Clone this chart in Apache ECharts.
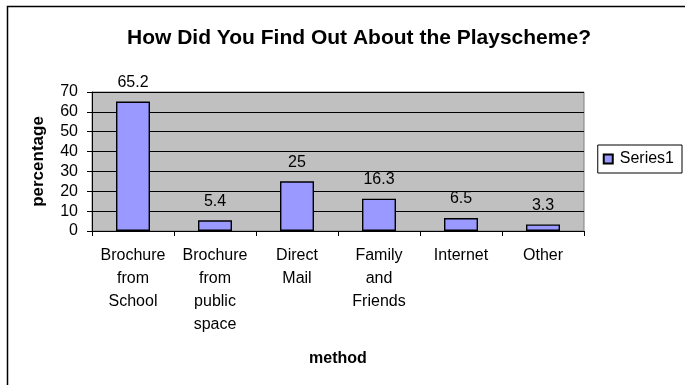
<!DOCTYPE html>
<html>
<head>
<meta charset="utf-8">
<script src="https://cdn.jsdelivr.net/npm/echarts@6/dist/echarts.min.js"></script>
<style>
  html, body { margin: 0; padding: 0; background: #fff; }
  #chart { width: 685px; height: 385px; }
</style>
</head>
<body>
<div id="chart"></div>
<script>
// Survey responses: how people heard about the playscheme
const categories = [
  'Brochure\nfrom\nSchool',
  'Brochure\nfrom\npublic\nspace',
  'Direct\nMail',
  'Family\nand\nFriends',
  'Internet',
  'Other'
];
const series1 = [65.2, 5.4, 25, 16.3, 6.5, 3.3];
const yTicks = { min: 0, max: 70, interval: 10 };

const FONT = 'Liberation Sans, Arial, sans-serif';

const chart = echarts.init(document.getElementById('chart'), null, { renderer: 'canvas' });

chart.setOption({
  animation: false,
  backgroundColor: '#ffffff',
  textStyle: { fontFamily: FONT, color: '#000' },
  title: {
    text: 'How Did You Find Out About the Playscheme?',
    left: 354,
    textAlign: 'center',
    top: 23,
    textStyle: { fontFamily: FONT, fontSize: 21, fontWeight: 'bold', color: '#000' }
  },
  graphic: [
    {
      type: 'rect',
      shape: { x: 7.5, y: 6.5, width: 700, height: 400 },
      style: { fill: 'none', stroke: '#000', lineWidth: 1.5 },
      silent: true,
      z: -1
    }
  ],
  legend: {
    show: true,
    data: ['Series1'],
    right: 3,
    top: 145,
    orient: 'vertical',
    padding: [6, 8, 6, 5],
    itemWidth: 9,
    itemHeight: 9,
    itemGap: 0,
    borderColor: '#000',
    borderWidth: 1,
    icon: 'rect',
    textStyle: { fontFamily: FONT, fontSize: 16, color: '#000', padding: [0, 0, 0, 2] }
  },
  grid: {
    left: 92,
    top: 92,
    right: 101,
    bottom: 154,
    show: true,
    backgroundColor: '#c0c0c0',
    borderColor: '#808080',
    borderWidth: 1
  },
  xAxis: {
    type: 'category',
    data: categories,
    name: 'method',
    nameLocation: 'middle',
    nameGap: 120,
    nameTextStyle: { fontFamily: FONT, fontSize: 16, fontWeight: 'bold', color: '#000' },
    axisLine: { show: true, lineStyle: { color: '#000', width: 1 } },
    axisTick: { show: true, alignWithLabel: false, length: 5, lineStyle: { color: '#000' } },
    axisLabel: {
      interval: 0,
      margin: 13,
      fontFamily: FONT,
      fontSize: 16,
      lineHeight: 23,
      color: '#000',
      align: 'center'
    },
    splitLine: { show: false }
  },
  yAxis: {
    type: 'value',
    min: yTicks.min,
    max: yTicks.max,
    interval: yTicks.interval,
    name: 'percentage',
    nameLocation: 'middle',
    nameRotate: 90,
    nameGap: 45,
    nameTextStyle: { fontFamily: FONT, fontSize: 17, fontWeight: 'bold', color: '#000' },
    axisLine: { show: true, lineStyle: { color: '#000', width: 1 } },
    axisTick: { show: true, length: 5, lineStyle: { color: '#000' } },
    axisLabel: { margin: 14, fontFamily: FONT, fontSize: 16, color: '#000' },
    splitLine: { show: true, lineStyle: { color: '#000', width: 1 } }
  },
  series: [
    {
      name: 'Series1',
      type: 'bar',
      data: series1,
      barWidth: 34,
      itemStyle: { color: '#9999ff', borderColor: '#000', borderWidth: 1.4 },
      label: {
        show: true,
        position: 'top',
        distance: 11,
        fontFamily: FONT,
        fontSize: 16,
        color: '#000'
      }
    }
  ]
});
</script>
</body>
</html>
